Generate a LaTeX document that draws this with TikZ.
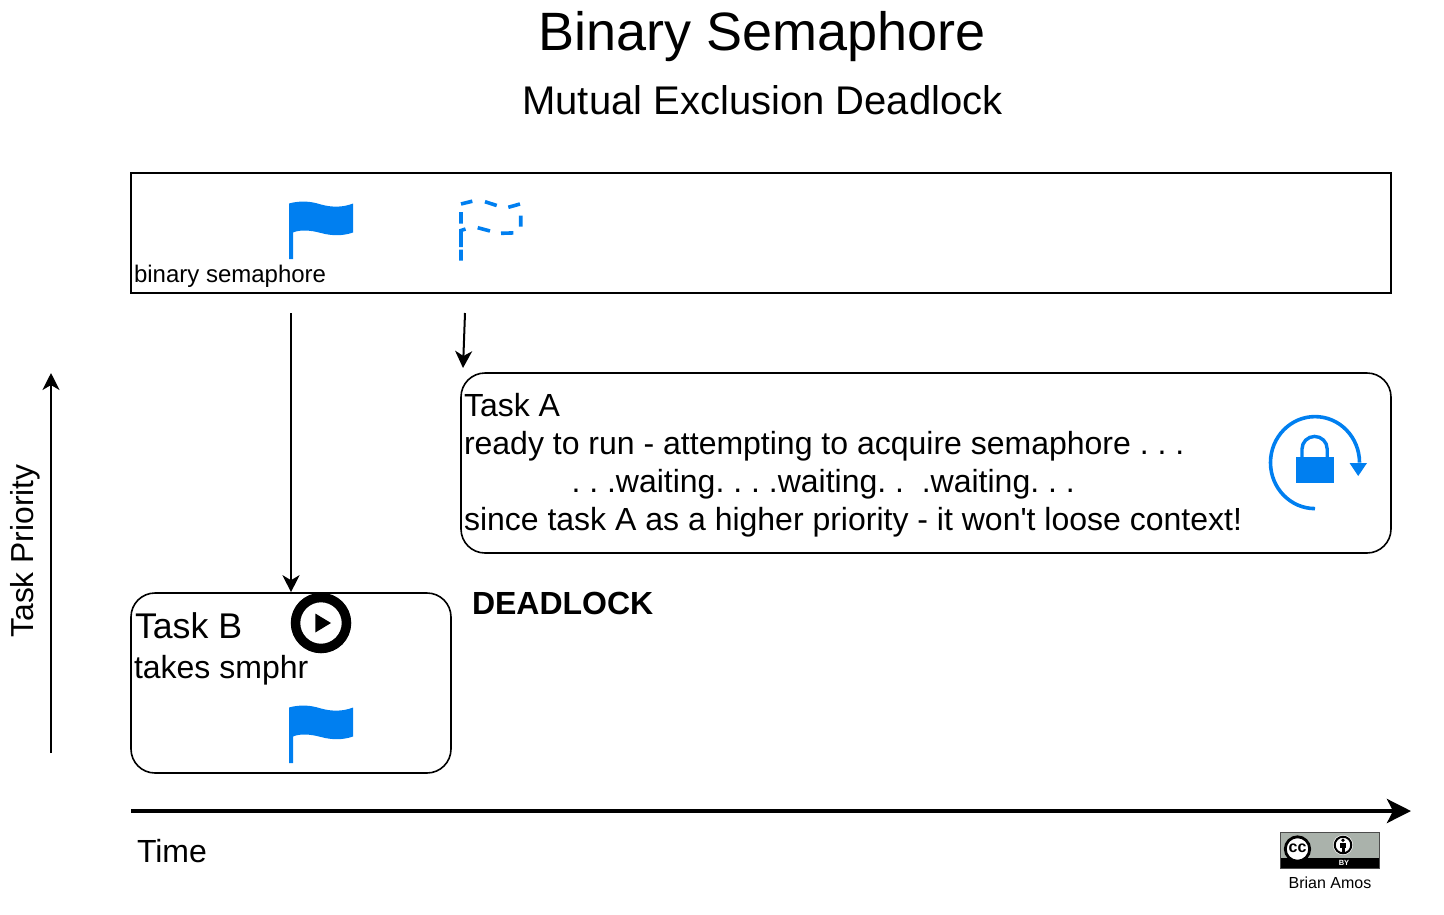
\documentclass[tikz,border=0pt]{standalone}
\usepackage{fontspec}
\setmainfont{Liberation Sans}[Ligatures=TeXOff]
\usetikzlibrary{arrows.meta}
\definecolor{flagblue}{HTML}{007FF0}
\definecolor{ccgrey}{HTML}{AAB2AB}
\newcommand{\fs}[1]{\fontsize{#1pt}{#1pt}\selectfont\frenchspacing}
\tikzset{
  boxsq/.style={draw=black,line width=2pt,minimum width=1260pt,minimum height=120pt,inner sep=0pt},
  boxrd/.style={draw=black,line width=1.6pt,rounded corners=24pt,inner sep=0pt},
  txt/.style={inner sep=0pt,outer sep=0pt,anchor=base west},
  conn/.style={draw=black,line width=2pt,-{Stealth[length=17pt,width=17pt,inset=5pt]}},
  flagfill/.style={fill=flagblue,draw=none},
  flagsolid/.style={draw=flagblue,line width=3.6pt,fill=none},
  iconline/.style={draw=flagblue,line width=3.6pt,fill=none},
}
\begin{document}
\begin{tikzpicture}[x=1pt,y=-1pt]
\useasboundingbox (0,0) rectangle (1444,914);
% titles
\node[inner sep=0pt,anchor=base] (title) at (762,50) {\fs{54}Binary Semaphore};
\node[inner sep=0pt,anchor=base] (subtitle) at (762.5,114) {\fs{40}Mutual Exclusion Deadlock};
% semaphore box
\node[boxsq] (sem) at (761,233) {};
\node[txt] (semlabel) at (134,282) {\fs{24}binary semaphore};
% solid flag
\fill[flagfill] (289,259) -- (289,203.5) .. controls (300,200.5) and (310,201) .. (321,204.5) .. controls (332,207.5) and (343,207.5) .. (353,203.5) -- (353,232.5) .. controls (343,236) and (332,236) .. (321,233) .. controls (310,230) and (300,229.5) .. (293,232.5) -- (293,259) -- cycle;
% dashed flag, dash by dash
\draw[flagsolid] (461,204) -- (472.3,201.2)
  (485,201.7) -- (496.7,205.5)
  (508.3,207.3) -- (520,204)
  (520.7,215.7) -- (520.7,226.7)
  (513.3,232.9) -- (501,233.3)
  (490,231) -- (477.7,227.7)
  (461,212) -- (461,223.5)
  (465.5,229) -- (461,230.5) -- (461,247)
  (461,249.5) -- (461,260.7);
% task A
\node[boxrd,minimum width=930pt,minimum height=180pt] (taskA) at (926,463) {};
\node[txt] (taskAl1) at (464,416) {\fs{32}Task A};
\node[txt] (taskAl2) at (464,454) {\fs{32}ready to run - attempting to acquire semaphore . . .};
\node[txt] (taskAl3) at (571.5,492) {\fs{32}. . .waiting. . . .waiting. .\ \ .waiting. . .};
\node[txt] (taskAl4) at (464,530) {\fs{32}since task A as a higher priority - it won't loose context!};
% lock icon
\draw[iconline] (1315,508.6) arc[start angle=90,end angle=360,x radius=44.5,y radius=46];
\fill[flagblue] (1349.5,463) -- (1367,463) -- (1358.2,476) -- cycle;
\fill[flagblue] (1296,456.5) rectangle (1333.5,482.5);
\draw[draw=flagblue,line width=3.4pt] (1302,457) -- (1302,449) arc[start angle=180,end angle=360,radius=12.6] -- (1327.2,457);
% task B
\node[boxrd,minimum width=320pt,minimum height=180pt] (taskB) at (291,683) {};
\node[txt] (taskBtitle) at (135,638) {\fs{35.7}Task B};
\node[txt] (taskBtext) at (134,678) {\fs{32}takes smphr};
\draw[draw=black,line width=9.5pt,fill=white] (321,623) circle[radius=25.5];
\fill[black] (315.3,613.5) -- (331,623) -- (315.3,632.5) -- cycle;
\fill[flagfill] (289,763) -- (289,707.5) .. controls (300,704.5) and (310,705) .. (321,708.5) .. controls (332,711.5) and (343,711.5) .. (353,707.5) -- (353,736.5) .. controls (343,740) and (332,740) .. (321,737) .. controls (310,734) and (300,733.5) .. (293,736.5) -- (293,763) -- cycle;
% deadlock
\node[txt] (deadlock) at (472,614) {\fs{32}\bfseries DEADLOCK};
% connectors
\coordinate (semB) at (291,313);
\coordinate (semA) at (465,313);
\coordinate (semAend) at (463,368);
\draw[conn] (semB) -- (taskB.north);
\draw[conn] (semA) -- (semAend);
% axes
\coordinate (py0) at (51,753);
\coordinate (py1) at (51,373);
\draw[conn] (py0) -- (py1);
\node[inner sep=0pt,anchor=base,rotate=90] (prio) at (33,551) {\fs{31.8}Task Priority};
\coordinate (tx0) at (131,811);
\coordinate (tx1) at (1411,811);
\draw[draw=black,line width=4pt,-{Stealth[length=24pt,width=24pt,inset=6pt]}] (tx0) -- (tx1);
\node[txt] (time) at (137,862) {\fs{32}Time};
% CC badge
\fill[ccgrey] (1280,832) rectangle (1380,858);
\fill[black] (1280,858) rectangle (1380,868);
\draw[draw=black!70,line width=1pt] (1280,832) rectangle (1379.5,868);
\draw[draw=black,line width=2.8pt,fill=white] (1297.5,849) circle[radius=12.2];
\node[inner sep=0pt] (cc) at (1297.5,848.5) {\fs{16}\bfseries cc};
\fill[white] (1343,845) circle[radius=10];
\draw[draw=black,line width=2pt] (1343,845) circle[radius=8.3];
\fill[black] (1343,840.2) circle[radius=1.8];
\fill[black] (1340,842.5) rectangle (1346,848);
\fill[black] (1341.5,848) rectangle (1344.5,852);
\node[inner sep=0pt,text=white] (by) at (1344,863) {\fs{7.5}\bfseries BY};
\node[inner sep=0pt,anchor=base] (author) at (1330,888) {\fs{16}Brian Amos};
\end{tikzpicture}
\end{document}
